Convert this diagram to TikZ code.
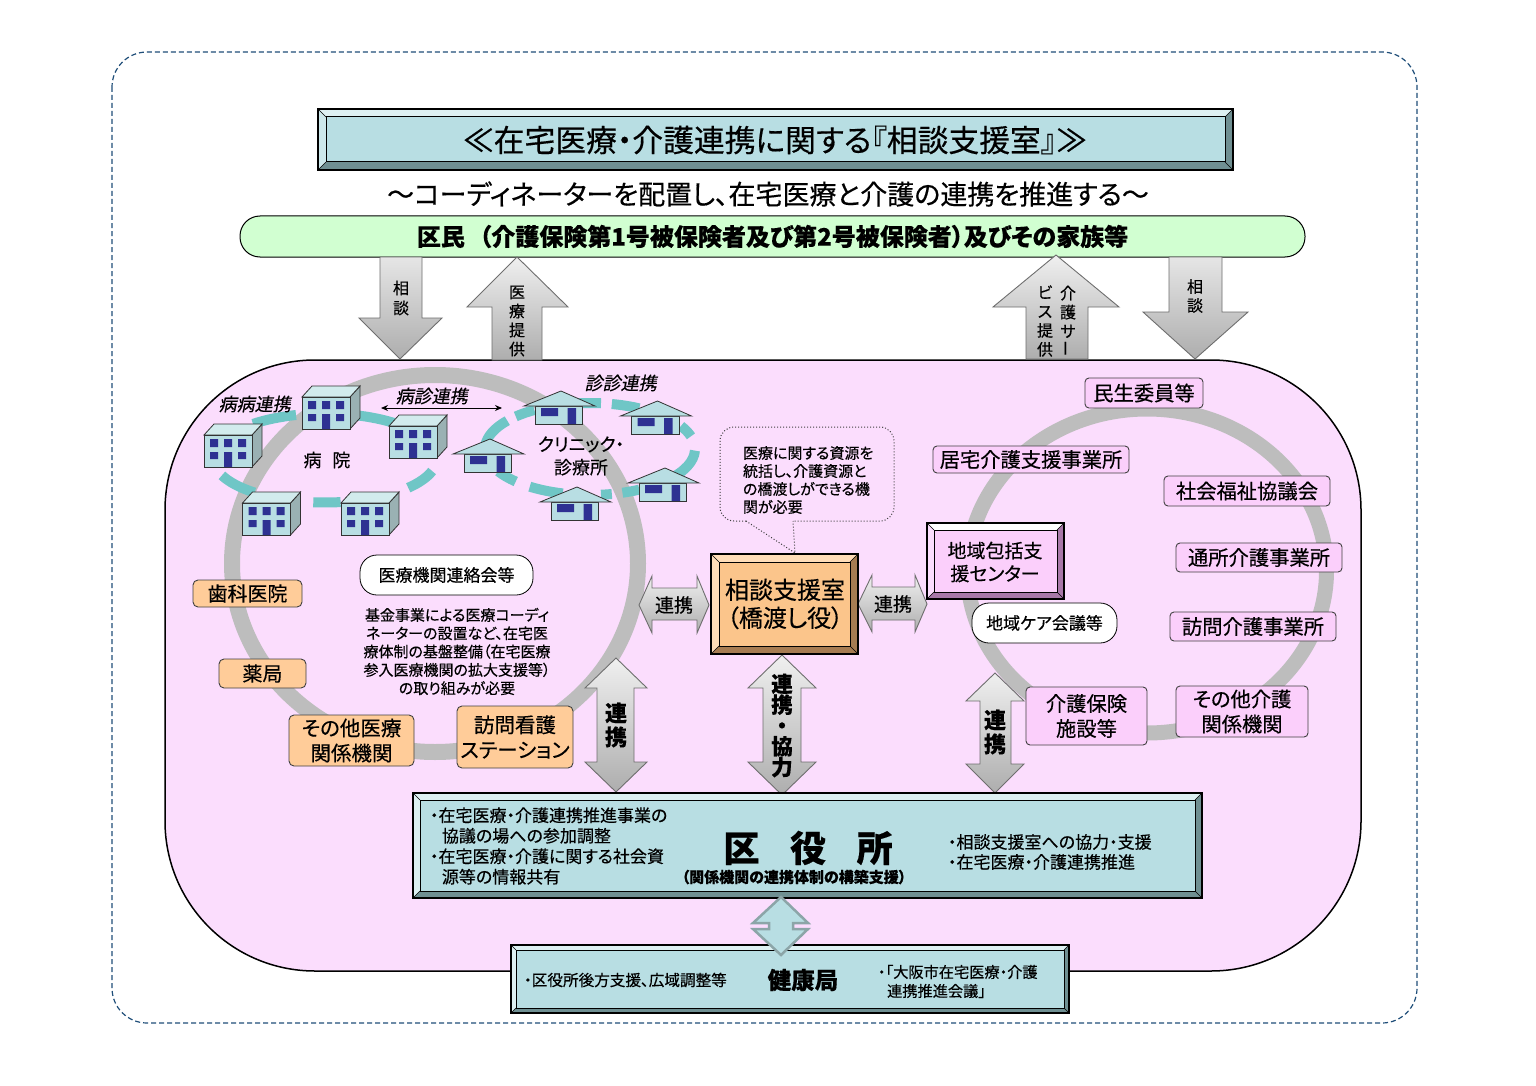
\documentclass[tikz,border=0pt]{standalone}
\usepackage{fontspec}
\usetikzlibrary{shapes.geometric,arrows.meta}
\setmainfont{Noto Sans CJK JP}[RawFeature=+palt,FakeBold=0.4]
\newcommand\fz[1]{\fontsize{#1}{#1}\selectfont}
\newcommand\fzl[2]{\fontsize{#1}{#2}\selectfont}
\definecolor{teal1}{HTML}{B8DEE3}
\definecolor{teal2}{HTML}{DDF0F2}
\definecolor{teal3}{HTML}{6F8F92}
\definecolor{teal4}{HTML}{6FC6C6}
\definecolor{navy1}{HTML}{2E3192}
\definecolor{pink1}{HTML}{FBDDFD}
\definecolor{pink2}{HTML}{FBCFFB}
\definecolor{pink3}{HTML}{A878A8}
\definecolor{oran1}{HTML}{FFCC99}
\definecolor{oran2}{HTML}{FBC58B}
\definecolor{oran3}{HTML}{FFDDB8}
\definecolor{oran4}{HTML}{A67C52}
\definecolor{ring1}{HTML}{BDBDBD}
\definecolor{edge1}{HTML}{6E6E6E}
\definecolor{bord1}{HTML}{1F4E79}
\tikzset{
  x=1pt,y=-1pt,
  every node/.style={inner sep=0pt,outer sep=0pt,align=center,text=black},
  orangebox/.style={draw=black!75,line width=.9pt,fill=oran1,rounded corners=5pt},
  pinkbox/.style={draw=black!75,line width=.9pt,fill=pink2,rounded corners=4pt,font=\fzl{20.3}{25}},
  whitebox/.style={draw=black,line width=.8pt,fill=white,rounded corners=17pt,font=\fz{17}},
  plainface/.style={draw=black,line width=1pt},
  blockarrow/.style={draw=edge1,line width=.9pt,top color=#1,bottom color=black!32},
  blockarrow/.default=black!6,
  ringline/.style={draw=ring1,line width=16pt},
  tealband/.style={draw=teal4,line width=10pt},
  building/.style={draw=black!80,line width=.8pt},
}
% centre x,y radii x,y angles a,b
\newcommand\tealarc[6]{\draw[tealband] ({#1+#3*cos(#5)},{#2+#4*sin(#5)}) arc[start angle=#5,end angle=#6,x radius=#3,y radius=#4];}
% name x1 y1 x2 y2 d face top left right bottom
\newcommand\bevelbox[6]{%
  \def\bn{#1}\def\bxa{#2}\def\bya{#3}\def\bxb{#4}\def\byb{#5}\def\bd{#6}\bevelrest}
\newcommand\bevelrest[5]{%
  \fill[#2] (\bxa,\bya)--(\bxb,\bya)--({\bxb-\bd},{\bya+\bd})--({\bxa+\bd},{\bya+\bd})--cycle;
  \fill[#3] (\bxa,\bya)--(\bxa,\byb)--({\bxa+\bd},{\byb-\bd})--({\bxa+\bd},{\bya+\bd})--cycle;
  \fill[#4] (\bxb,\bya)--(\bxb,\byb)--({\bxb-\bd},{\byb-\bd})--({\bxb-\bd},{\bya+\bd})--cycle;
  \fill[#5] (\bxa,\byb)--(\bxb,\byb)--({\bxb-\bd},{\byb-\bd})--({\bxa+\bd},{\byb-\bd})--cycle;
  \draw[black,line width=1.2pt] (\bxa,\bya) rectangle (\bxb,\byb);
  \node[plainface,fill=#1,minimum width={(\bxb-\bxa-2*\bd)*1pt},minimum height={(\byb-\bya-2*\bd)*1pt}] (\bn) at ({(\bxa+\bxb)/2},{(\bya+\byb)/2}) {};
  \draw[black,line width=.6pt] (\bxa,\bya)--({\bxa+\bd},{\bya+\bd}) (\bxb,\bya)--({\bxb-\bd},{\bya+\bd}) (\bxb,\byb)--({\bxb-\bd},{\byb-\bd}) (\bxa,\byb)--({\bxa+\bd},{\byb-\bd});
}
% name x1 y1 x2 y2 style text
\newcommand\tbox[7]{\node[#6,minimum width={(#4-#2)*1pt},minimum height={(#5-#3)*1pt}] (#1) at ({(#2+#4)/2},{(#3+#5)/2}) {#7};}
\newcommand\bldg[3]{\begin{scope}[shift={(#2,#3)}]
  \fill[teal3!70,draw=black!80,line width=.8pt] (48,0)--(58,-11)--(58,21)--(48,32)--cycle;
  \fill[teal2!70!teal1,draw=black!80,line width=.8pt] (0,0)--(10,-11)--(58,-11)--(48,0)--cycle;
  \node[building,fill=teal1,minimum width=48pt,minimum height=32pt] (#1) at (24,16) {};
  \fill[navy1] (6,4) rectangle (14,12) (20,4) rectangle (28,12) (34,4) rectangle (42,12)
     (6,17) rectangle (14,24) (34,17) rectangle (42,24) (20,17) rectangle (28,32);
\end{scope}}
\newcommand\house[3]{\begin{scope}[shift={(#2,#3)}]
  \node[building,fill=teal1,minimum width=47.5pt,minimum height=18.5pt] (#1) at (-2.3,24.2) {};
  \fill[teal1,draw=black!80,line width=.8pt] (0,0)--(34,15)--(-37,15)--cycle;
  \fill[navy1] (-20,17) rectangle (-3,25) (6.5,17) rectangle (15,33);
\end{scope}}
\begin{document}
\begin{tikzpicture}
\useasboundingbox (0,0) rectangle (1536,1086);
\fill[white] (0,0) rectangle (1536,1086);
% outer border
\draw[bord1,line width=1.2pt,dash pattern=on 5pt off 3pt,rounded corners=35pt] (112,52) rectangle (1417,1023);
% title
\bevelbox{title}{318}{109}{1233}{170}{8}{teal1}{teal2}{teal1!70!white}{teal3}{teal3}
\node[font=\fz{30.8}] (titlet) at (775,140) {≪在宅医療・介護連携に関する『相談支援室』≫};
\node[font=\fz{27}] (sub) at (768,194) {～コーディネーターを配置し、在宅医療と介護の連携を推進する～};
\node[draw=black,line width=1pt,fill=green!18!white,rounded corners=20pt,minimum width=1065pt,minimum height=41pt,font=\fz{24}\bfseries] (citizen) at (772.5,236.5) {区民\hspace{.6em}（介護保険第1号被保険者及び第2号被保険者）及びその家族等};
% main area
\node[draw=black,line width=1.5pt,fill=pink1,rounded corners=150pt,minimum width=1196pt,minimum height=611pt] (area) at (763,665.5) {};
% rings
\node[ringline,ellipse,draw,minimum width=406pt,minimum height=377pt] (ringL) at (435,563.5) {};
\node[ringline,line width=15pt,ellipse,draw,minimum width=359pt,minimum height=324pt] (ringR) at (1147,571) {};
% top arrows
\shade[blockarrow=black!10] (380,257)--(422,257)--(422,318)--(442,318)--(400,359)--(359,318)--(380,318)--cycle;
\node[font=\fzl{16}{20}] (a1) at (401,298) {相\\談};
\shade[blockarrow] (517,257)--(568,307)--(542,307)--(542,360)--(492,360)--(492,307)--(467,307)--cycle;
\node[font=\fzl{16}{19}] (a2) at (517,321) {医\\療\\提\\供};
\shade[blockarrow] (1056,255)--(1119,307)--(1088,307)--(1088,359)--(1026,359)--(1026,307)--(993,307)--cycle;
\node[font=\fzl{16}{19}] (a3) at (1068,321) {介\\護\\サ\\\rotatebox{90}{ー}};
\node[font=\fzl{16}{19}] (a3b) at (1045,321) {ビ\\ス\\提\\供};
\shade[blockarrow=black!10] (1169,257)--(1222,257)--(1222,312)--(1248,312)--(1195,359)--(1143,312)--(1169,312)--cycle;
\node[font=\fzl{16}{19}] (a4) at (1195,296) {相\\談};
% teal dashed ellipses: hospital ring
\tealarc{325}{458}{112}{44.5}{129}{157}
\tealarc{325}{458}{112}{44.5}{82}{96}
\tealarc{325}{458}{112}{44.5}{17}{42}
\tealarc{325}{458}{112}{44.5}{-75}{-50}
\tealarc{325}{458}{112}{44.5}{-130}{-105}
% clinic ring
\tealarc{590}{449}{105}{46}{-176}{-142}
\tealarc{590}{449}{105}{46}{-135}{-122}
\tealarc{590}{449}{105}{46}{-100}{-84}
\tealarc{590}{449}{105}{46}{-78}{-62}
\tealarc{590}{449}{105}{46}{-30}{-16}
\tealarc{590}{449}{105}{46}{2}{42}
\tealarc{590}{449}{105}{46}{62}{72}
\tealarc{590}{449}{105}{46}{78}{84}
\tealarc{590}{449}{105}{46}{105}{125}
\tealarc{590}{449}{105}{46}{135}{151}
% buildings
\bldg{b1}{302}{397}
\bldg{b2}{389}{426}
\bldg{b3}{204}{435}
\bldg{b4}{242.5}{503}
\bldg{b5}{341}{503}
\house{h1}{561}{391}
\house{h2}{657.5}{401}
\house{h3}{490}{439}
\house{h4}{577}{487}
\house{h5}{665}{468}
% labels
\coordinate (pl) at (381,408);
\coordinate (pr) at (502,408);
\draw[{Stealth[length=7pt,width=6pt]}-{Stealth[length=7pt,width=6pt]},black,line width=1pt] (pl)--(pr);
\node[xslant=.2,transform shape,font=\fz{18}] (l1) at (256,404) {病病連携};
\node[xslant=.2,transform shape,font=\fz{18}] (l2) at (433,396) {病診連携};
\node[xslant=.2,transform shape,font=\fz{18}] (l3) at (622,383) {診診連携};
\node[font=\fz{18}] (hosp) at (327,460) {病\hspace{.6em}院};
\node[font=\fzl{18}{23}] (clin) at (581,456) {クリニック・\\診療所};
% orange boxes
\tbox{o1}{193}{580}{302}{607}{orangebox,font=\fz{20}}{歯科医院}
\tbox{o2}{219}{659}{306}{688}{orangebox,font=\fz{20}}{薬局}
\tbox{o3}{289}{715}{414}{766}{orangebox,font=\fzl{20.5}{25}}{その他医療\\関係機関}
\tbox{o4}{457}{706}{573}{768}{orangebox,font=\fzl{20.5}{25}}{訪問看護\\ステーション}
\tbox{w1}{360}{555}{533}{595}{whitebox}{医療機関連絡会等}
\node[font=\fzl{15}{18.3}] (para) at (457,651.5) {基金事業による医療コーディ\\ネーターの設置など、在宅医\\療体制の基盤整備（在宅医療\\参入医療機関の拡大支援等）\\の取り組みが必要};
% horizontal arrows
\shade[blockarrow] (639,605)--(652,576)--(652,588)--(697,588)--(697,576)--(709,605)--(697,633)--(697,620)--(652,620)--(652,633)--cycle;
\node[font=\fz{19}] (a5) at (674,605) {連携};
\shade[blockarrow] (858,604)--(872,575)--(872,587)--(915,587)--(915,575)--(927,604)--(915,632)--(915,620)--(872,620)--(872,632)--cycle;
\node[font=\fz{19}] (a6) at (893,604) {連携};
% vertical arrows
\shade[blockarrow] (616,658)--(647,688)--(634,688)--(634,762)--(647,762)--(616,792)--(585,762)--(597,762)--(597,688)--(585,688)--cycle;
\node[font=\fzl{22}{24}\bfseries] (a7) at (616,725) {連\\携};
\shade[blockarrow] (782,655)--(816,688)--(801,688)--(801,762)--(816,762)--(782,795)--(748,762)--(763,762)--(763,688)--(748,688)--cycle;
\node[font=\fzl{21.5}{20.8}\bfseries] (a8) at (782,725.5) {連\\携\\・\\協\\力};
\shade[blockarrow] (995,673)--(1024,701)--(1011,701)--(1011,764)--(1024,764)--(995,793)--(966,764)--(980,764)--(980,701)--(966,701)--cycle;
\node[font=\fzl{22}{24}\bfseries] (a9) at (995,732) {連\\携};
% center
\bevelbox{center}{711}{554}{858}{654}{8}{oran2}{oran3}{oran3}{oran4}{oran4}
\node[font=\fzl{24}{28}] (centert) at (785,604) {相談支援室\\（橋渡し役）};
% callout
\coordinate (tail) at (795,553);
\draw[black!75,line width=1pt,dotted,fill=pink1,rounded corners=14pt] (746,521)--(720,521)--(720,427)--(894,427)--(894,521)--(793,521);
\draw[black!75,line width=1pt,dotted] (746,521)--(tail)--(793,521);
\node[align=left,anchor=west,font=\fzl{15}{18}] (call) at (743,480) {医療に関する資源を\\統括し、介護資源と\\の橋渡しができる機\\関が必要};
% right
\bevelbox{comm}{927}{523}{1064}{599}{7}{pink2}{white}{pink1}{pink3}{pink3}
\node[font=\fzl{19}{23}] (commt) at (995,562) {地域包括支\\援センター};
\tbox{w2}{972}{603}{1117}{643}{whitebox}{地域ケア会議等}
\tbox{p1}{1085}{378}{1203}{408}{pinkbox}{民生委員等}
\tbox{p2}{933}{446}{1129}{473}{pinkbox}{居宅介護支援事業所}
\tbox{p3}{1164}{476}{1330}{506}{pinkbox}{社会福祉協議会}
\tbox{p4}{1176}{543}{1342}{572}{pinkbox}{通所介護事業所}
\tbox{p5}{1170}{612}{1336}{641}{pinkbox}{訪問介護事業所}
\tbox{p6}{1176}{686}{1308}{737}{pinkbox}{その他介護\\関係機関}
\tbox{p7}{1026}{687}{1147}{745}{pinkbox}{介護保険\\施設等}
% ward office
\bevelbox{ward}{413}{793}{1202}{898}{7}{teal1}{teal2}{teal2}{teal3}{teal3}
\node[align=left,anchor=west,font=\fzl{17}{20.5}] (wl) at (430,846) {・在宅医療・介護連携推進事業の\\\hspace{.7em}協議の場への参加調整\\・在宅医療・介護に関する社会資\\\hspace{.7em}源等の情報共有};
\node[font=\fz{36}\bfseries] (wt) at (808,848) {区\hspace{.85em}役\hspace{.85em}所};
\node[font=\fz{15}\bfseries] (ws) at (794,877) {（関係機関の連携体制の構築支援）};
\node[align=left,anchor=west,font=\fzl{17}{20}] (wr) at (948,852) {・相談支援室への協力・支援\\・在宅医療・介護連携推進};
% city bureau
\bevelbox{city}{511}{945}{1069}{1013}{5}{teal1}{teal2}{teal2}{teal3}{teal3}
\node[anchor=west,font=\fz{15.6}] (cl) at (524,980) {・区役所後方支援、広域調整等};
\node[font=\fz{23.5}\bfseries] (ct) at (803,980) {健康局};
\node[align=left,anchor=west,font=\fzl{15.2}{19}] (cr) at (878,981.5) {・「大阪市在宅医療・介護\\\hspace{.6em}連携推進会議」};
% teal double arrow
\draw[draw=teal3!80,line width=2.5pt,fill=teal1] (781,897)--(808,923)--(793,923)--(793,929)--(808,929)--(781,955)--(753,929)--(769,929)--(769,923)--(753,923)--cycle;
\end{tikzpicture}
\end{document}
